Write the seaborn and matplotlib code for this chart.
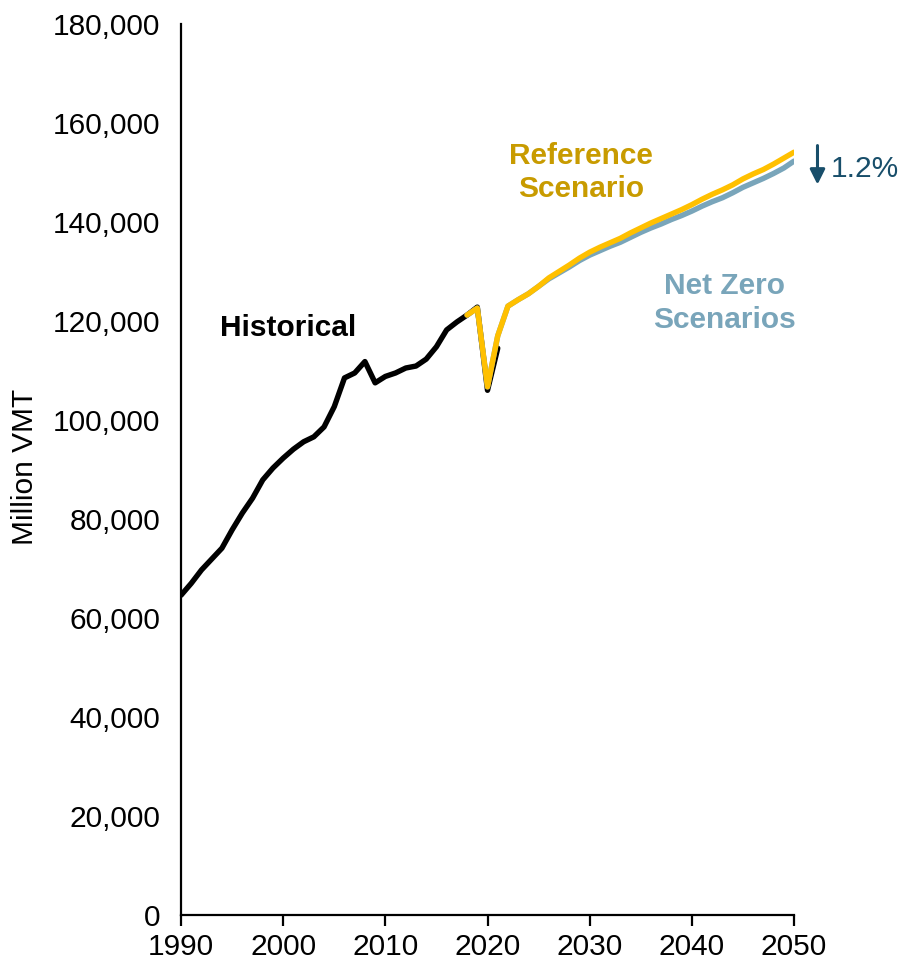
import matplotlib
matplotlib.use("Agg")
import matplotlib.pyplot as plt
import seaborn as sns
import pandas as pd

# Historical vehicle miles travelled (million VMT)
hist_years = list(range(1990, 2022))
hist_vmt = [64600, 67000, 69700, 71900, 74100, 77800, 81200, 84200, 87900, 90300,
            92300, 94100, 95600, 96600, 98600, 102700, 108500, 109500, 111800, 107500,
            108800, 109500, 110500, 110900, 112300, 114800, 118200, 119800, 121200, 122800,
            106000, 114500]

# Projections
proj_years = list(range(2018, 2051))
reference_vmt = [121200, 122600, 106700, 117000, 123000, 124300, 125500, 127000, 128700, 130000,
                 131300, 132700, 133900, 134900, 135800, 136700, 137800, 138800, 139800, 140700,
                 141600, 142500, 143500, 144600, 145600, 146500, 147500, 148700, 149700, 150600,
                 151700, 152900, 154100]
net_zero_vmt = [121200, 122600, 106700, 117000, 123000, 124300, 125500, 127000, 128500, 129700,
                130900, 132200, 133300, 134200, 135100, 135900, 136900, 137900, 138800, 139600,
                140500, 141300, 142200, 143200, 144100, 144900, 145900, 147000, 147900, 148800,
                149800, 150900, 152300]

x_ticks = [1990, 2000, 2010, 2020, 2030, 2040, 2050]
y_ticks = list(range(0, 180001, 20000))

hist_df = pd.DataFrame({"year": hist_years, "vmt": hist_vmt})
ref_df = pd.DataFrame({"year": proj_years, "vmt": reference_vmt})
nz_df = pd.DataFrame({"year": proj_years, "vmt": net_zero_vmt})

sns.set_style("white")
plt.rcParams["font.family"] = ["Liberation Sans", "DejaVu Sans"]

BLACK = "#000000"
GOLD = "#FFC000"
GOLD_TEXT = "#C89B00"
BLUE = "#79A5BA"
TEAL = "#184E6A"

FS = 21.5

fig = plt.figure(figsize=(9.07, 9.60), dpi=100)
ax = fig.add_axes([0.1996, 0.0469, 0.6758, 0.9281])

lw = 3.9
sns.lineplot(data=hist_df, x="year", y="vmt", color=BLACK, linewidth=lw, ax=ax, zorder=2)
sns.lineplot(data=nz_df, x="year", y="vmt", color=BLUE, linewidth=lw, ax=ax, zorder=3)
sns.lineplot(data=ref_df, x="year", y="vmt", color=GOLD, linewidth=lw, ax=ax, zorder=4)

ax.set_xlim(1990, 2050)
ax.set_ylim(0, 180000)
ax.set_xticks(x_ticks)
ax.set_xticklabels([str(t) for t in x_ticks])
ax.set_yticks(y_ticks)
ax.set_yticklabels([f"{t:,}" for t in y_ticks])
ax.set_xlabel("")
ax.set_ylabel("Million VMT", fontsize=FS, color=BLACK)
ax.yaxis.set_label_coords(-0.232, 0.503)

for side in ["top", "right"]:
    ax.spines[side].set_visible(False)
for side in ["left", "bottom"]:
    ax.spines[side].set_linewidth(1.6)
    ax.spines[side].set_color("black")

ax.tick_params(axis="x", which="major", direction="out", length=8, width=1.6,
               labelsize=FS, pad=5, bottom=True, colors="black")
ax.tick_params(axis="y", which="major", length=0, labelsize=FS, pad=15, colors="black")

ax.text(2000.5, 118600, "Historical", fontsize=FS, fontweight="bold",
        color=BLACK, ha="center", va="center")
ax.text(2029.15, 150000, "Reference\nScenario", fontsize=FS, fontweight="bold",
        color=GOLD_TEXT, ha="center", va="center", linespacing=1.25)
ax.text(2043.15, 123600, "Net Zero\nScenarios", fontsize=FS, fontweight="bold",
        color=BLUE, ha="center", va="center", linespacing=1.25)

ax.annotate("", xy=(2052.3, 147000), xytext=(2052.3, 156000),
            arrowprops=dict(arrowstyle="-|>,head_length=0.9,head_width=0.45",
                            color=TEAL, lw=2.2),
            annotation_clip=False)
ax.text(2053.6, 150800, "1.2%", fontsize=FS, color=TEAL, ha="left", va="center",
        clip_on=False)

fig.savefig("out.png", dpi=100)
